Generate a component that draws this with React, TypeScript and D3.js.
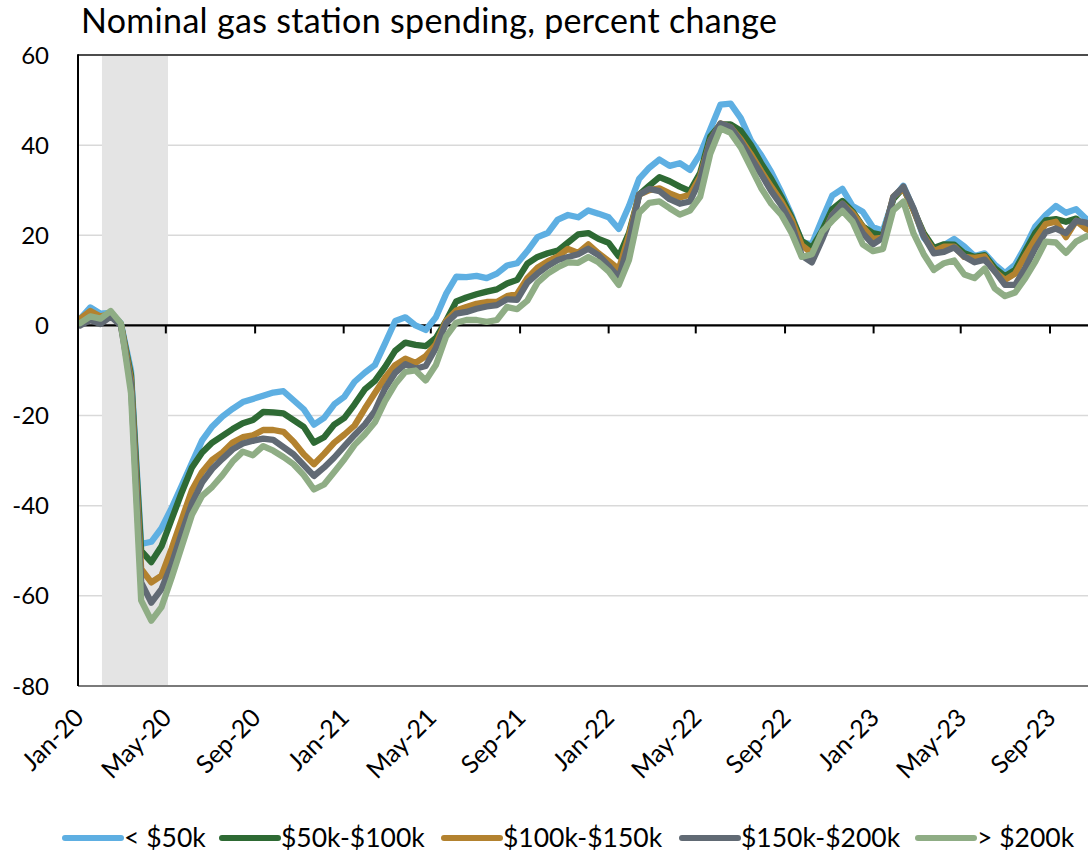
import React from 'react';
import * as d3 from 'd3';

// ---- data (biweekly observations starting 2020-01-04) ----
const START = new Date(Date.UTC(2020, 0, 4));
const STEP_DAYS = 14;

const under50k = [
  1.5, 4.0, 2.6, 2.8, 0.5, -10, -48.5, -48, -45, -40.5,
  -35.5, -30.5, -25.5, -22.4, -20.2, -18.5, -17.0, -16.3, -15.6, -14.9,
  -14.6, -16.6, -18.6, -22.0, -20.5, -17.5, -15.8, -12.5, -10.5, -8.8,
  -4.0, 1.0, 1.8, 0.0, -1.0, 1.8, 7.0, 10.8, 10.7, 11.0,
  10.5, 11.5, 13.3, 13.8, 16.5, 19.6, 20.5, 23.5, 24.5, 24.0,
  25.5, 24.8, 24.0, 21.4, 26.5, 32.5, 35.0, 36.8, 35.4, 36.0,
  34.5, 38.0, 43.5, 49.0, 49.2, 46.0, 41.0, 37.8, 34.0, 29.5,
  24.5, 18.5, 18.0, 23.5, 28.8, 30.3, 26.5, 25.2, 21.8, 21.0,
  28.0, 31.0, 25.8, 19.5, 17.0, 17.8, 19.2, 17.5, 15.4, 16.0,
  13.5, 11.6, 13.5, 17.5, 22.0, 24.5, 26.5, 25.0, 25.8, 23.6,
  22.0,
];
const k50to100 = [
  1.0, 2.5, 1.5, 2.8, 0.3, -11, -50, -52.5, -49, -43,
  -37, -31.5, -28.2, -26, -24.5, -23, -21.7, -21.0, -19.2, -19.3,
  -19.5, -21.0, -22.5, -26.0, -24.8, -22.0, -20.5, -17.5, -14.2, -12.3,
  -9.2, -5.6, -3.8, -4.3, -4.6, -2.8, 1.0, 5.3, 6.2, 6.9,
  7.5, 8.0, 9.3, 10.1, 13.7, 15.2, 16.0, 16.6, 18.4, 20.2,
  20.5, 19.2, 18.3, 15.3, 20.5, 29.0, 31.0, 32.9, 32.0, 30.8,
  29.8, 33.8, 41.9, 44.6, 44.6, 43.2, 40.0, 36.0, 32.5, 28.5,
  24.0, 18.8, 17.2, 21.0, 25.8, 27.6, 25.3, 22.0, 20.5, 20.0,
  28.0, 30.5, 25.6, 20.5, 17.2, 18.0, 17.9, 16.0, 15.2, 15.6,
  12.7, 10.9, 12.3, 16.5, 20.6, 23.3, 23.6, 23.0, 23.7, 21.5,
  20.5,
];
const k100to150 = [
  1.5, 3.2, 2.0, 2.5, 0.3, -12, -54, -57, -55.5, -49.5,
  -43, -36.5, -32.5, -29.8, -28.2, -26, -24.8, -24.4, -23.2, -23.2,
  -23.6, -25.8, -28.6, -30.8, -28.5, -26.0, -24.2, -22.2, -18.5, -15.0,
  -11.6, -8.8, -7.4, -8.3, -6.8, -4.2, 1.0, 3.3, 4.1, 4.8,
  5.2, 5.2, 6.5, 7.0, 10.5, 12.8, 14.2, 15.3, 17.0, 16.1,
  18.0, 16.0, 14.3, 12.5, 20.0, 29.0, 30.0, 30.4, 29.3, 28.4,
  29.0, 33.0, 41.0, 44.8, 44.0, 41.3, 38.0, 34.3, 30.8, 27.5,
  23.5, 17.8, 16.0, 19.5, 24.5, 27.0, 25.0, 21.9, 19.2, 19.5,
  28.5, 30.5, 25.6, 20.0, 16.5, 17.5, 17.5, 15.2, 15.0, 15.3,
  12.0, 10.1, 11.5, 15.5, 19.2, 22.5, 23.0, 19.6, 23.2, 21.4,
  20.5,
];
const k150to200 = [
  0.0, 1.2, 0.3, 2.0, 0.0, -13, -57, -61.5, -58.5, -53,
  -46, -39.5, -34.8, -31.8, -29.6, -27.5, -26.2, -25.6, -25.1, -25.4,
  -27.0, -28.6, -31.0, -33.4, -31.5, -29.3, -26.8, -24.3, -22.0, -19.0,
  -14.0, -10.5, -8.6, -9.6, -9.0, -5.0, 0.5, 2.6, 3.0, 3.7,
  4.2, 4.5, 5.8, 5.7, 9.5, 11.5, 13.2, 14.5, 15.2, 15.8,
  17.0, 15.6, 13.2, 10.6, 18.5, 29.0, 30.3, 29.8, 28.0, 27.0,
  27.5, 32.3, 41.0, 44.8, 44.0, 40.8, 37.2, 33.6, 29.8, 26.6,
  22.5, 15.5, 14.0, 19.0, 24.5, 27.0, 24.4, 20.5, 18.0, 19.5,
  28.5, 30.8, 26.0, 19.8, 16.0, 16.3, 17.3, 15.3, 14.0, 14.6,
  12.0, 9.0, 9.0, 12.8, 17.2, 20.7, 21.5, 20.5, 23.2, 22.8,
  21.5,
];
const over200k = [
  0.5, 2.0, 1.5, 3.2, 0.5, -15, -61, -65.5, -62.5, -56,
  -49, -42, -37.8, -35.8, -33.2, -30.2, -28.0, -28.8, -26.8, -27.8,
  -29.2, -30.8, -33.2, -36.4, -35.3, -32.5, -29.7, -26.5, -24.2, -21.5,
  -16.8, -13.0, -10.3, -10.0, -12.2, -8.8, -2.5, 0.6, 1.2, 1.2,
  0.8, 1.2, 4.1, 3.6, 5.5, 9.5, 11.5, 12.9, 14.0, 13.9,
  15.2, 14.0, 12.0, 9.0, 14.5, 25.0, 27.2, 27.5, 26.0, 24.6,
  25.5, 28.5, 38.1, 43.7, 42.7, 39.5, 35.0, 30.5, 27.0, 24.5,
  20.5, 15.2, 15.8, 20.8, 23.2, 25.4, 23.0, 18.0, 16.5, 17.0,
  25.5, 27.5, 20.4, 15.8, 12.3, 13.8, 14.4, 11.3, 10.5, 12.6,
  8.2, 6.5, 7.3, 10.5, 14.2, 18.6, 18.4, 16.1, 18.6, 19.8,
  19.5,
];

const seriesNames = ['< $50k', '$50k-$100k', '$100k-$150k', '$150k-$200k', '> $200k'];
const seriesValues = [under50k, k50to100, k100to150, k150to200, over200k];
const seriesColors = ['#5eafe2', '#2e6a34', '#b3822f', '#616a74', '#8fad85'];

const yTicks = [60, 40, 20, 0, -20, -40, -60, -80];
const xTickLabels = [
  'Jan-20', 'May-20', 'Sep-20', 'Jan-21', 'May-21', 'Sep-21',
  'Jan-22', 'May-22', 'Sep-22', 'Jan-23', 'May-23', 'Sep-23',
];
const recessionStart = '2020-02-03';
const recessionEnd = '2020-05-04';

const TITLE = 'Nominal gas station spending, percent change';

// ---- layout ----
const W = 1088;
const H = 853;
const L = 78;
const T = 55;
const B = 686;
const R = 1100;
const FONT = 'Lato, "Open Sans", sans-serif';
const legendX = [65, 222, 444, 682, 918];

export default function App() {
  const dates = seriesValues[0].map((_, i) => d3.utcDay.offset(START, i * STEP_DAYS));
  const x = d3
    .scaleUtc()
    .domain([new Date(Date.UTC(2020, 0, 1)), new Date(Date.UTC(2023, 8, 1))])
    .range([L, 1050]);
  const y = d3.scaleLinear().domain([-80, 60]).range([B, T]);
  const parseTick = d3.utcParse('%b-%y');
  const tickDates = xTickLabels.map((s) => parseTick(s) as Date);
  const parseDay = d3.utcParse('%Y-%m-%d');
  const rs = x(parseDay(recessionStart) as Date);
  const re = x(parseDay(recessionEnd) as Date);

  const line = d3
    .line<number>()
    .x((_, i) => x(dates[i]))
    .y((v) => y(v))
    .curve(d3.curveLinear);

  return (
    <svg
      width={W}
      height={H}
      style={{ position: 'absolute', left: 0, top: 0, background: '#fff' }}
      fontFamily={FONT}
    >
      <defs>
        <clipPath id="plotclip">
          <rect x={L} y={T - 10} width={R - L} height={B - T + 20} />
        </clipPath>
      </defs>
      <rect x={0} y={0} width={W} height={H} fill="#fff" />
      <text x={81} y={33} fontSize={34} fill="#000" textLength={696} lengthAdjust="spacing">
        {TITLE}
      </text>

      {/* gridlines */}
      {yTicks.map((t) => (
        <line key={t} x1={L} x2={R} y1={y(t)} y2={y(t)} stroke="#d9d9d9" strokeWidth={1.5} />
      ))}

      {/* recession shading */}
      <rect x={rs} y={T} width={re - rs} height={B - T} fill="#e4e4e4" />

      {/* plot border */}
      <line x1={L} x2={R} y1={T} y2={T} stroke="#1a1a1a" strokeWidth={1.5} />
      <line x1={L} x2={R} y1={B} y2={B} stroke="#7a7a7a" strokeWidth={1.8} />

      {/* zero axis with ticks */}
      <line x1={L} x2={R} y1={y(0)} y2={y(0)} stroke="#000" strokeWidth={2.2} />
      {tickDates.map((d, i) => (
        <line key={i} x1={x(d)} x2={x(d)} y1={y(0)} y2={y(0) + 8} stroke="#000" strokeWidth={2} />
      ))}

      {/* series lines */}
      <g clipPath="url(#plotclip)">
        {seriesValues.map((vals, si) => (
          <path
            key={si}
            d={line(vals) || ''}
            fill="none"
            stroke={seriesColors[si]}
            strokeWidth={6.3}
            strokeLinejoin="round"
            strokeLinecap="round"
          />
        ))}
      </g>

      {/* left axis */}
      <line x1={L} x2={L} y1={T - 0.75} y2={B} stroke="#000" strokeWidth={2} />

      {/* y tick labels */}
      {yTicks.map((t) => (
        <text key={t} x={49} y={y(t) + 8.5} fontSize={24} textAnchor="end" fill="#000">
          {t}
        </text>
      ))}

      {/* x tick labels */}
      {tickDates.map((d, i) => (
        <text
          key={i}
          transform={`translate(${x(d) + 1},${713}) rotate(-45)`}
          fontSize={25}
          textAnchor="end"
          dy="0.35em"
          fill="#000"
        >
          {xTickLabels[i]}
        </text>
      ))}

      {/* legend */}
      {seriesNames.map((name, i) => (
        <g key={name}>
          <line
            x1={legendX[i]}
            x2={legendX[i] + 56}
            y1={838}
            y2={838}
            stroke={seriesColors[i]}
            strokeWidth={6}
            strokeLinecap="round"
          />
          <text x={legendX[i] + 59} y={847} fontSize={26.5} fill="#000">
            {name}
          </text>
        </g>
      ))}
    </svg>
  );
}
